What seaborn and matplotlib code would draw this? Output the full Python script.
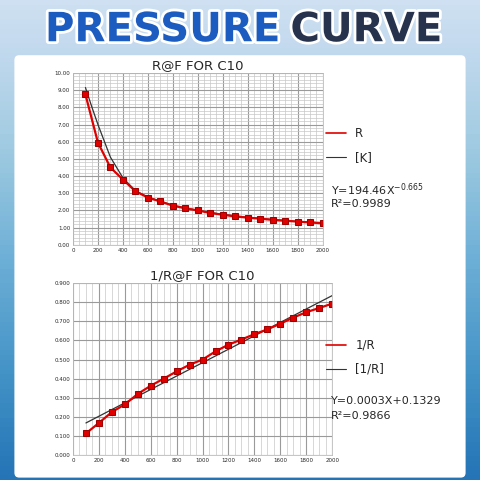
import matplotlib
matplotlib.use('Agg')
import numpy as np
import seaborn as sns
import matplotlib.pyplot as plt
import matplotlib.patheffects as pe
from matplotlib.patches import FancyBboxPatch
from matplotlib.ticker import MultipleLocator

x_vals = [100, 200, 300, 400, 500, 600, 700, 800, 900, 1000,
          1100, 1200, 1300, 1400, 1500, 1600, 1700, 1800, 1900, 2000]
r_vals = [8.75, 5.95, 4.5, 3.8, 3.12, 2.75, 2.52, 2.28, 2.12, 2.0,
          1.85, 1.75, 1.65, 1.58, 1.52, 1.45, 1.4, 1.35, 1.3, 1.25]
inv_vals = [0.113, 0.168, 0.225, 0.265, 0.32, 0.363, 0.4, 0.438, 0.473, 0.5,
            0.543, 0.578, 0.605, 0.633, 0.658, 0.688, 0.72, 0.748, 0.77, 0.793]
# trend lines
trend_r_x = [100, 150, 200, 300, 400, 500, 600, 800, 1000, 1200, 1400, 1600, 1800, 2000]
trend_r_y = [9.15, 8.05, 7.0, 5.1, 3.9, 3.15, 2.78, 2.3, 2.0, 1.77, 1.6, 1.47, 1.36, 1.27]
trend_inv_x = [100, 2000]
trend_inv_y = [0.168, 0.835]

red = '#e00000'
sns.set_style('white')
plt.rcParams['font.family'] = ['DejaVu Sans']

fig = plt.figure(figsize=(4.8, 4.8), dpi=100)
fig.patch.set_facecolor('#6aa8e6')
bg = fig.add_axes([0, 0, 1, 1], zorder=-5)
bg.imshow(np.linspace(0, 1, 100).reshape(-1, 1), cmap='Blues', vmin=-0.4, vmax=1.5,
          aspect='auto', extent=[0, 1, 0, 1])
bg.set_axis_off()
fig.patches.append(FancyBboxPatch((0.03, 0.005), 0.94, 0.88, boxstyle='round,pad=0,rounding_size=0.01',
                                  transform=fig.transFigure, facecolor='white', edgecolor='none', zorder=-1))

stroke = [pe.withStroke(linewidth=4, foreground='white')]
fig.text(0.585, 0.937, 'PRESSURE', ha='right', va='center', fontsize=29, fontweight='heavy',
         color='#1c5cc0', path_effects=stroke)
fig.text(0.605, 0.937, 'CURVE', ha='left', va='center', fontsize=29, fontweight='heavy',
         color='#27334d', path_effects=stroke)

def setup(ax, ymax, ymaj, ymin, yfmt):
    ax.set_xlim(0, 2000)
    ax.set_ylim(0, ymax)
    ax.xaxis.set_major_locator(MultipleLocator(200))
    ax.xaxis.set_minor_locator(MultipleLocator(50))
    ax.yaxis.set_major_locator(MultipleLocator(ymaj))
    if ymin:
        ax.yaxis.set_minor_locator(MultipleLocator(ymin))
    ax.yaxis.set_major_formatter(yfmt)
    ax.grid(True, which='major', color='#9a9a9a', lw=0.8)
    ax.grid(True, which='minor', color='#c8c8c8', lw=0.5)
    ax.tick_params(labelsize=4, length=0, pad=2)
    for s in ax.spines.values():
        s.set_color('#bbbbbb')
        s.set_linewidth(0.6)

ax1 = fig.add_axes([0.152, 0.49, 0.52, 0.358])
setup(ax1, 10, 1, 0.2, '{x:.2f}')
sns.lineplot(x=trend_r_x, y=trend_r_y, ax=ax1, color='#333333', lw=0.9)
sns.lineplot(x=x_vals, y=r_vals, ax=ax1, color=red, lw=1.6, marker='s', markersize=4,
             markeredgecolor='#a00000')
ax1.set_title('R@F FOR C10', fontsize=9.5, pad=3)

ax2 = fig.add_axes([0.152, 0.052, 0.54, 0.358])
setup(ax2, 0.9, 0.1, None, '{x:.3f}')
sns.lineplot(x=trend_inv_x, y=trend_inv_y, ax=ax2, color='#333333', lw=0.9)
sns.lineplot(x=x_vals, y=inv_vals, ax=ax2, color=red, lw=1.6, marker='s', markersize=4,
             markeredgecolor='#a00000')
ax2.set_title('1/R@F FOR C10', fontsize=9.5, pad=3)

def legend(y0, n1, n2, eq, r2):
    fig.lines.append(plt.Line2D([0.68, 0.72], [y0, y0], color=red, lw=1.2, transform=fig.transFigure))
    fig.text(0.74, y0, n1, fontsize=8.5, va='center')
    fig.lines.append(plt.Line2D([0.68, 0.72], [y0 - 0.05, y0 - 0.05], color='#333333', lw=0.8,
                                transform=fig.transFigure))
    fig.text(0.74, y0 - 0.05, n2, fontsize=8.5, va='center')
    fig.text(0.69, y0 - 0.118, eq, fontsize=8, va='center')
    fig.text(0.69, y0 - 0.148, r2, fontsize=8, va='center')

legend(0.722, 'R', '[K]', r'Y=194.46X$^{-0.665}$', 'R²=0.9989')
legend(0.282, '1/R', '[1/R]', 'Y=0.0003X+0.1329', 'R²=0.9866')

fig.savefig('out.png', dpi=100)
